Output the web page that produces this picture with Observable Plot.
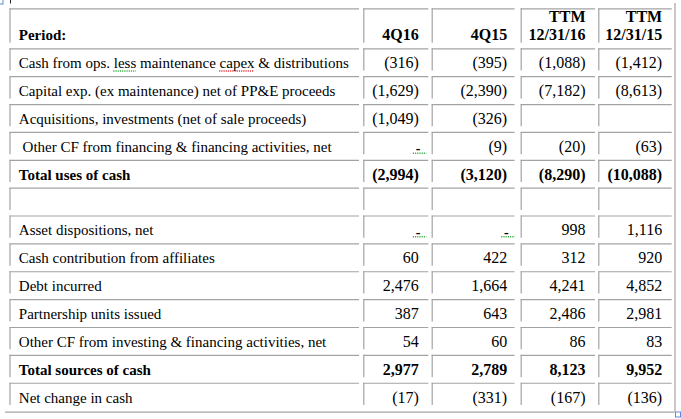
<!DOCTYPE html>
<html><head><meta charset="utf-8">
<script src="https://cdn.jsdelivr.net/npm/d3@7"></script>
<script src="https://cdn.jsdelivr.net/npm/@observablehq/plot@0.6"></script>
<style>html,body{margin:0;padding:0;background:#fff}svg{display:block}</style>
</head><body><div id="chart"></div>
<script>
// ---- data ----
const headerLabel = "Period:";
const periods = ["4Q16", "4Q15", "TTM\n12/31/16", "TTM\n12/31/15"];
const lineItems = [
  "Cash from ops. less maintenance capex & distributions",
  "Capital exp. (ex maintenance) net of PP&E proceeds",
  "Acquisitions, investments (net of sale proceeds)",
  " Other CF from financing & financing activities, net",
  "Total uses of cash",
  "",
  "Asset dispositions, net",
  "Cash contribution from affiliates",
  "Debt incurred",
  "Partnership units issued",
  "Other CF from investing & financing activities, net",
  "Total sources of cash",
  "Net change in cash"
];
const boldRows = ["Total uses of cash", "Total sources of cash"];
const q4_2016  = [-316, -1629, -1049, 0, -2994, null, 0, 60, 2476, 387, 54, 2977, -17];
const q4_2015  = [-395, -2390, -326, -9, -3120, null, 0, 422, 1664, 643, 60, 2789, -331];
const ttm_2016 = [-1088, -7182, null, -20, -8290, null, 998, 312, 4241, 2486, 86, 8123, -167];
const ttm_2015 = [-1412, -8613, null, -63, -10088, null, 1116, 920, 4852, 2981, 83, 9952, -136];
// spell-check marks shown in the source document
const spellMarks = [
  {row: 0, word: "less", color: "green"},
  {row: 0, word: "capex", color: "red"}
];

// ---- layout (positions & styles) ----
const W = 681, H = 419;
const L = {
  colLeft: [9.5, 363.3, 431.7, 520.7, 598.3],
  colRight: [359, 428.3, 514.5, 595, 671.7],
  textRight: [418.3, 506.7, 585, 661.7],
  labelX: 18.3,
  headerTop: 8.3, headerH: 40, rowTop0: 48.3, rowH: 27.87, gap: 5.6,
  headerBaseline: 31.2, rowBaseline: 19.4,
  tableLeft: 5, tableTop: 3, tableRight: 674.5, tableBottom: 411.7,
  grid: "#a3a3a3", gridW: 1.2,
  font: "'Liberation Serif', 'Times New Roman', Times, serif",
  labelSize: 15, numSize: 16,
  green: "#3fae49", red: "#e0393e", handle: "#5f8ad8"
};
const sources = [q4_2016, q4_2015, ttm_2016, ttm_2015];
const rowTop = r => L.rowTop0 + r * L.rowH;
const fmtN = d3.format(",");
const fmt = v => v == null ? "" : v === 0 ? "-" : v < 0 ? `(${fmtN(-v)})` : fmtN(v);

// cells
const cells = [];
for (let c = 0; c < 5; c++) cells.push({left: L.colLeft[c], right: L.colRight[c], top: L.headerTop, bottom: L.headerTop + L.headerH - L.gap});
lineItems.forEach((_, r) => {
  for (let c = 0; c < 5; c++) cells.push({left: L.colLeft[c], right: L.colRight[c], top: rowTop(r), bottom: rowTop(r) + L.rowH - L.gap});
});

const labels = lineItems.map((t, r) => ({text: t.replace(/^ /, "\u00a0"), y: rowTop(r) + L.rowBaseline, bold: boldRows.includes(t)}));
const numbers = [];
sources.forEach((s, c) => s.forEach((v, r) => {
  if (v == null) return;
  numbers.push({x: L.textRight[c], y: rowTop(r) + L.rowBaseline, text: fmt(v), v, bold: boldRows.includes(lineItems[r])});
}));
const dashes = numbers.filter(d => d.v === 0);
const vals = numbers.filter(d => d.v !== 0);
const headers = periods.map((p, c) => ({text: p, x: L.textRight[c], y: L.headerTop + L.headerBaseline}));

// measure text for the spelling underlines
const ctx = document.createElement("canvas").getContext("2d");
ctx.font = `${L.labelSize}px ${L.font}`;
const squiggles = spellMarks.map(m => {
  const t = lineItems[m.row];
  const i = t.indexOf(m.word);
  const x1 = L.labelX + ctx.measureText(t.slice(0, i)).width;
  return {x1, x2: x1 + ctx.measureText(m.word).width, y: rowTop(m.row) + L.rowBaseline + 2.8, color: m.color === "green" ? L.green : L.red};
}).concat(dashes.map(d => ({x1: d.x - 5.5, x2: d.x + 8, y: d.y + 1.4, color: L.green})));

const textOpts = {fontFamily: L.font, fill: "#000", lineAnchor: "bottom"};

const chart = Plot.plot({
  width: W, height: H, margin: 0,
  x: {type: "linear", domain: [0, W], range: [0, W], axis: null},
  y: {type: "linear", domain: [0, H], range: [0, H], axis: null},
  style: {background: "#fff"},
  marks: [
    Plot.ruleY(cells, {y: "top", x1: "left", x2: "right", stroke: L.grid, strokeWidth: L.gridW}),
    Plot.ruleX(cells, {x: "left", y1: "top", y2: "bottom", stroke: L.grid, strokeWidth: L.gridW}),
    Plot.ruleX([L.tableRight], {x: d => d, y1: L.tableTop, y2: L.tableBottom, stroke: L.grid, strokeWidth: L.gridW}),
    Plot.ruleY([L.tableBottom], {y: d => d, x1: L.tableLeft, x2: L.tableRight, stroke: L.grid, strokeWidth: L.gridW}),
    // Word table handles
    Plot.ruleX([10], {x: d => d, y1: 0, y2: 3.5, stroke: "#222", strokeWidth: 1}),
    Plot.rect([0], {x1: -3, x2: 3, y1: -2, y2: 4, fill: "#fff", stroke: L.handle, strokeWidth: 1}),
    Plot.rect([0], {x1: 675.5, x2: 680.5, y1: 412, y2: 417, fill: "#fff", stroke: L.handle, strokeWidth: 1}),
    // text
    Plot.text([headerLabel], {...textOpts, fontSize: L.labelSize, x: L.labelX, y: L.headerTop + L.headerBaseline, text: d => d, textAnchor: "start", fontWeight: "bold"}),
    Plot.text(headers, {...textOpts, fontSize: L.numSize, x: "x", y: "y", text: "text", textAnchor: "end", fontWeight: "bold", lineHeight: 1.14}),
    Plot.text(labels.filter(d => !d.bold), {...textOpts, fontSize: L.labelSize, x: L.labelX, y: "y", text: "text", textAnchor: "start"}),
    Plot.text(labels.filter(d => d.bold), {...textOpts, fontSize: L.labelSize, x: L.labelX, y: "y", text: "text", textAnchor: "start", fontWeight: "bold"}),
    Plot.text(vals.filter(d => !d.bold), {...textOpts, fontSize: L.numSize, x: "x", y: "y", text: "text", textAnchor: "end"}),
    Plot.text(vals.filter(d => d.bold), {...textOpts, fontSize: L.numSize, x: "x", y: "y", text: "text", textAnchor: "end", fontWeight: "bold"}),
    Plot.text(dashes, {...textOpts, fontSize: 14, x: d => d.x + 1.5, y: "y", text: "text", textAnchor: "end", dy: 1.2, fontWeight: "bold"}),
    Plot.ruleY(squiggles, {y: "y", x1: "x1", x2: "x2", stroke: "color", strokeWidth: 1.6, strokeDasharray: "1.2,1"})
  ]
});
document.getElementById("chart").appendChild(chart);
</script>
</body></html>
